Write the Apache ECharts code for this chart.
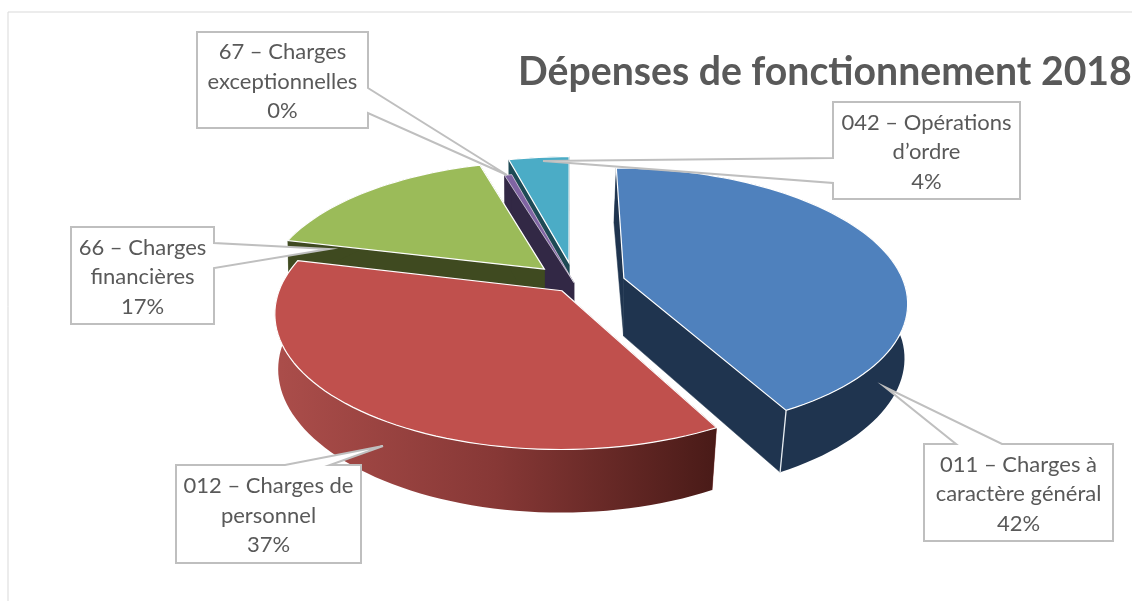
<!DOCTYPE html>
<html><head><meta charset="utf-8">
<style>html,body{margin:0;padding:0;background:#fff}#c{width:1132px;height:601px}</style>
<script src="https://cdn.jsdelivr.net/npm/echarts@6/dist/echarts.min.js"></script>
</head><body><div id="c"></div>
<script>
// --- data ---
const categories = ['011 – Charges à\ncaractère général','012 – Charges de\npersonnel','66 – Charges\nfinancières','67 – Charges\nexceptionnelles','042 – Opérations\nd’ordre'];
const shares = [42.2, 36.6, 16.6, 0.49, 4.11];
const titleText = 'Dépenses de fonctionnement 2018';

// --- styles and layout ---
const topColors  = ['#4f81bd','#c0504d','#9bbb59','#8064a2','#4bacc6'];
const wallColors = ['#1f344f','#7a302e','#3f4a20','#322845','#1e4a55'];
const paintOrder = [4,3,2,0,1];
const explode = [[54,-4],[-8,23],[-26,-24],[4,6],[-1,-38]];
const callouts = [
  {box:[924,444,1113,541],side:'top',  a:956,b:1002,tip:[885,387]},
  {box:[176,465,361,563],side:'top',  a:285,b:330, tip:[383,446]},
  {box:[71,227,214,324], side:'right',a:243,b:268, tip:[329,249]},
  {box:[197,32,368,128], side:'right',a:88,b:113,  tip:[507,175]},
  {box:[833,102,1020,199],side:'left',a:158,b:183, tip:[543,161]}
];
const view = {cx:570, cy:280, R:279, f:1700, k:0.4616, depth:58, startAngle:0};

function project(X,Y,low){
  const s = view.f/(view.f-Y);
  let px = view.cx + X*s, py = view.cy + Y*view.k*s;
  if(low){
    // the lower face of the disc is further from the eye, so it narrows towards the front
    let shrink = 0.995 - 0.023*Math.max(0,Y)/244;
    if(X>0 && Y<-120) shrink -= 0.045*(-Y-120)/160;
    px = view.cx+(px-view.cx)*shrink;
    py = view.cy+(py-view.cy)*1.03+view.depth;
  }
  return [px,py];
}
const total = shares.reduce((a,b)=>a+b,0);
const spans = [];
shares.reduce((acc,v,i)=>{const e=acc+v/total*360; spans[i]=[acc,e]; return e;},view.startAngle);

function arc(i,low){
  const [a0,a1]=spans[i], [ox,oy]=explode[i], n=Math.max(2,Math.ceil((a1-a0)/2)), pts=[];
  for(let j=0;j<=n;j++){
    const t=(a0+(a1-a0)*j/n)*Math.PI/180;
    pts.push(project(ox+view.R*Math.sin(t), oy-view.R*Math.cos(t), low));
  }
  return pts;
}
function renderSlice(params,api){
  const i=api.value(0), z=paintOrder.indexOf(i)*10+1;
  const top=arc(i,false), bot=arc(i,true), last=top.length-1;
  const at=project(explode[i][0],explode[i][1],false), ab=project(explode[i][0],explode[i][1],true);
  let rimFill=wallColors[i];
  if(i===1){
    rimFill=new echarts.graphic.LinearGradient(270,0,720,0,[
      {offset:0,color:'#ac4e4b'},{offset:0.5,color:'#873836'},{offset:1,color:'#481a17'}],true);
  }
  const poly=(points,fill,style,zz)=>({type:'polygon',z2:zz,shape:{points},style:Object.assign({fill},style)});
  const children=[
    poly([at,top[0],bot[0],ab],wallColors[i],{stroke:wallColors[i],lineWidth:0.5},z),
    poly([at,top[last],bot[last],ab],wallColors[i],{stroke:wallColors[i],lineWidth:0.5},z),
    poly(top.concat(bot.slice().reverse()),rimFill,{lineWidth:0},z+1),
    poly([at].concat(top),topColors[i],{stroke:'#fff',lineWidth:i===3?0.6:1.2},z+3)
  ];
  // the visible front corner of the exploded slice
  if(i===0) children.push({type:'polyline',z2:z+2,shape:{points:[top[last],bot[last]]},style:{stroke:'#e8edf2',lineWidth:1.3,fill:'none'}});
  return {type:'group',children};
}
function renderCallout(params,api){
  const i=api.value(0), c=callouts[i], [x0,y0,x1,y1]=c.box;
  let pts;
  if(c.side==='top') pts=[[x0,y0],[c.a,y0],c.tip,[c.b,y0],[x1,y0],[x1,y1],[x0,y1]];
  if(c.side==='right') pts=[[x0,y0],[x1,y0],[x1,c.a],c.tip,[x1,c.b],[x1,y1],[x0,y1]];
  if(c.side==='left') pts=[[x0,y0],[x1,y0],[x1,y1],[x0,y1],[x0,c.b],c.tip,[x0,c.a]];
  const pct=Math.round(shares[i]/total*100)+'%';
  return {type:'group',children:[
    {type:'polygon',z2:100,shape:{points:pts},style:{fill:'#fff',stroke:'#bfbfbf',lineWidth:2}},
    {type:'text',z2:101,style:{x:(x0+x1)/2,y:(y0+y1)/2+1.5,text:categories[i]+'\n'+pct,
      fill:'#595959',font:'22px Lato',lineHeight:29.5,align:'center',verticalAlign:'middle'}}
  ]};
}
const chart=echarts.init(document.getElementById('c'),null,{renderer:'canvas'});
chart.setOption({
  animation:false,
  backgroundColor:'#fff',
  title:{text:titleText,left:518,top:53,padding:0,textStyle:{fontFamily:'Lato',fontWeight:'bold',fontSize:39.2,color:'#595959'}},
  graphic:[
    {type:'line',shape:{x1:8,y1:12,x2:1132,y2:12},style:{stroke:'#d9d9d9',lineWidth:1}},
    {type:'line',shape:{x1:8,y1:12,x2:8,y2:601},style:{stroke:'#d9d9d9',lineWidth:1}}
  ],
  series:[
    {type:'custom',coordinateSystem:'none',silent:true,renderItem:renderSlice,
     data:shares.map((v,i)=>[i,v]),encode:{value:[0,1]},clip:false},
    {type:'custom',coordinateSystem:'none',silent:true,z:3,renderItem:renderCallout,
     data:shares.map((v,i)=>[i,v]),encode:{value:[0,1]},clip:false}
  ]
});
</script></body></html>
